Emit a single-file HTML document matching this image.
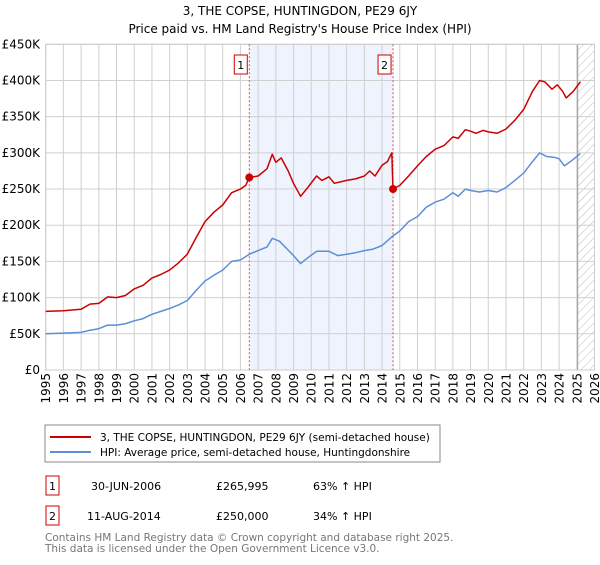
<!DOCTYPE html>
<html><head><meta charset="utf-8"><style>
body{margin:0;background:#fff;font-family:"Liberation Sans","DejaVu Sans",sans-serif;}
svg text{font-family:"DejaVu Sans","Liberation Sans",sans-serif;}
</style></head><body>
<svg width="600" height="560" viewBox="0 0 600 560" xmlns="http://www.w3.org/2000/svg">
<defs><pattern id="hatch" width="6" height="6" patternUnits="userSpaceOnUse" patternTransform="rotate(45)"><line x1="0" y1="0" x2="0" y2="6" stroke="#bbb" stroke-width="1"/></pattern></defs>
<text x="300" y="15" text-anchor="middle" font-size="12">3, THE COPSE, HUNTINGDON, PE29 6JY</text>
<text x="300" y="33" text-anchor="middle" font-size="12">Price paid vs. HM Land Registry's House Price Index (HPI)</text>
<g id="plot"></g>
<rect x="45" y="425" width="395" height="37" fill="#fff" stroke="#888"/>
<line x1="50" y1="437" x2="91" y2="437" stroke="#cc0000" stroke-width="2"/>
<text x="100" y="441" font-size="10.5">3, THE COPSE, HUNTINGDON, PE29 6JY (semi-detached house)</text>
<line x1="50" y1="452" x2="91" y2="452" stroke="#5b8fd6" stroke-width="2"/>
<text x="100" y="456" font-size="10.5">HPI: Average price, semi-detached house, Huntingdonshire</text>
<g>
<rect x="46" y="476" width="13" height="19" fill="none" stroke="#cc0000"/>
<text x="52.5" y="490" font-size="11" text-anchor="middle">1</text>
<text x="91" y="490" font-size="11">30-JUN-2006</text>
<text x="216" y="490" font-size="11">£265,995</text>
<text x="313" y="490" font-size="11">63% ↑ HPI</text></g>
<g>
<rect x="46" y="506" width="13" height="19" fill="none" stroke="#cc0000"/>
<text x="52.5" y="520" font-size="11" text-anchor="middle">2</text>
<text x="87" y="520" font-size="11">11-AUG-2014</text>
<text x="216" y="520" font-size="11">£250,000</text>
<text x="313" y="520" font-size="11">34% ↑ HPI</text></g>
<text x="45" y="541" font-size="10.5" fill="#777">Contains HM Land Registry data © Crown copyright and database right 2025.</text>
<text x="45" y="552" font-size="10.5" fill="#777">This data is licensed under the Open Government Licence v3.0.</text>
</svg>
<script>
const redYears=[1995,1996,1997,1997.5,1998,1998.5,1999,1999.5,2000,2000.5,2001,2001.5,2002,2002.5,2003,2003.5,2004,2004.5,2005,2005.5,2006,2006.3,2006.5,2007,2007.5,2007.8,2008,2008.3,2008.7,2009,2009.4,2009.8,2010.3,2010.6,2011,2011.3,2012,2012.5,2013,2013.3,2013.6,2014,2014.3,2014.55,2014.62,2015,2015.5,2016,2016.5,2017,2017.5,2018,2018.3,2018.7,2019,2019.3,2019.7,2020,2020.5,2021,2021.5,2022,2022.5,2022.9,2023.2,2023.6,2023.9,2024.2,2024.4,2024.8,2025.2];
const redValues=[81,82,84,91,92,101,100,103,112,117,127,132,138,148,160,183,205,218,228,245,250,255,266,268,278,298,287,293,275,258,240,252,268,262,267,258,262,264,268,275,268,283,288,300,250,255,268,282,295,305,310,322,320,332,330,327,331,329,327,333,345,360,385,400,398,388,394,385,376,385,398];
const hpiYears=[1995,1996,1997,1997.5,1998,1998.5,1999,1999.5,2000,2000.5,2001,2001.5,2002,2002.5,2003,2003.5,2004,2004.5,2005,2005.5,2006,2006.5,2007,2007.5,2007.8,2008.2,2008.6,2009,2009.4,2009.8,2010.3,2011,2011.5,2012,2012.5,2013,2013.5,2014,2014.6,2015,2015.5,2016,2016.5,2017,2017.5,2018,2018.3,2018.7,2019,2019.5,2020,2020.5,2021,2021.5,2022,2022.5,2022.9,2023.3,2023.7,2024,2024.3,2024.7,2025.2];
const hpiValues=[50,51,52,55,57,62,62,64,68,71,77,81,85,90,96,110,123,131,138,150,152,160,165,170,182,178,168,158,147,155,164,164,158,160,162,165,167,172,185,192,205,212,225,232,236,245,240,250,248,246,248,246,252,262,272,288,300,295,294,292,282,289,299];
const saleYears=[2006.5,2014.62];
const saleValues=[265.995,250];
const saleLabels=["1","2"];
const yTicks=[0,50,100,150,200,250,300,350,400,450];
const yTickLabels=["£0","£50K","£100K","£150K","£200K","£250K","£300K","£350K","£400K","£450K"];
const xTicks=[];for(let y=1995;y<=2026;y++)xTicks.push(y);

const X0=45.7,X1=594.5,Y0=370,Y1=44.3;
const xs=y=>X0+(y-1995)/(2026-1995)*(X1-X0);
const ys=v=>Y0-v/450*(Y0-Y1);
const NS="http://www.w3.org/2000/svg";
const g=document.getElementById('plot');
function mk(t,a,p){const e=document.createElementNS(NS,t);for(const k in a)e.setAttribute(k,a[k]);(p||g).appendChild(e);return e;}
let e;
e=mk('rect',{x:xs(saleYears[0]),y:Y1,width:xs(saleYears[1])-xs(saleYears[0]),height:Y0-Y1,fill:'#eef3fd'});


e=mk('rect',{x:xs(2025.05),y:Y1,width:X1-xs(2025.05),height:Y0-Y1,fill:'url(#hatch)'});


xTicks.forEach((t,i)=>{
 e=mk('line',{x1:xs(t),x2:xs(t),y1:Y1,y2:Y0,stroke:'#d0d0d0','stroke-width':1});
 
 
 e=mk('text',{x:0,y:0,'font-size':12,'text-anchor':'end',transform:`translate(${xs(t)+4.5},373) rotate(-90)`});
 e.textContent=t;
 
 
});
yTicks.forEach((t,i)=>{
 e=mk('line',{x1:X0,x2:X1,y1:ys(t),y2:ys(t),stroke:'#d0d0d0','stroke-width':1});
 
 
 e=mk('text',{x:40,y:ys(t)+4,'font-size':12,'text-anchor':'end'});
 e.textContent=yTickLabels[i];
 
 
});
e=mk('line',{x1:xs(2025.05),x2:xs(2025.05),y1:Y1,y2:Y0,stroke:'#999','stroke-width':1});


e=mk('rect',{x:X0,y:Y1,width:X1-X0,height:Y0-Y1,fill:'none',stroke:'#ccc'});


saleYears.forEach((s,i)=>{
 e=mk('line',{x1:xs(s),x2:xs(s),y1:Y1,y2:Y0,stroke:'#e05050','stroke-width':1,'stroke-dasharray':'2,2'});
 
 
});
function path(xa,va,col,name){
 const d=xa.map((x,i)=>(i?'L':'M')+xs(x).toFixed(1)+','+ys(va[i]).toFixed(1)).join('');
 e=mk('path',{d:d,fill:'none',stroke:col,'stroke-width':1.5,'stroke-linejoin':'round'});
 
 
}
path(hpiYears,hpiValues,'#5b8fd6','hpi-line');
path(redYears,redValues,'#cc0000','property-price-line');
saleYears.forEach((s,i)=>{
 e=mk('circle',{cx:xs(s),cy:ys(saleValues[i]),r:4,fill:'#cc0000'});
 
 
 e=mk('rect',{x:xs(s)-15,y:55,width:13,height:19,fill:'#fff',stroke:'#cc0000'});
 
 
 e=mk('text',{x:xs(s)-8.5,y:69,'font-size':11,'text-anchor':'middle'});
 e.textContent=saleLabels[i];
 
 
});
</script>
</body></html>
